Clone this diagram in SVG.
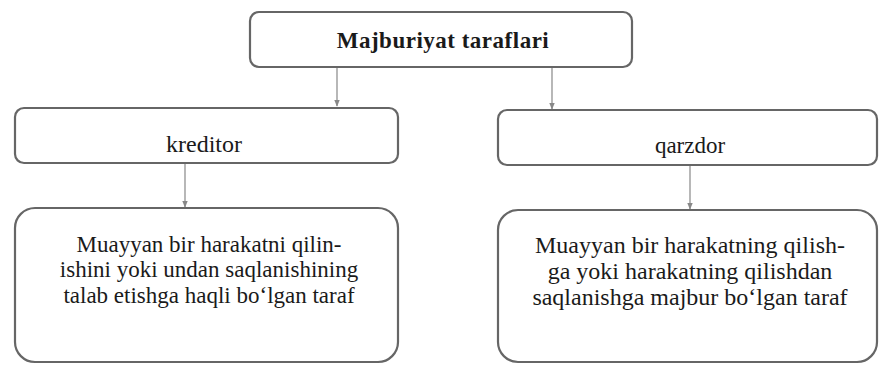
<svg xmlns="http://www.w3.org/2000/svg" width="882" height="366" viewBox="0 0 882 366">
<defs>
<style>
.box{fill:#fff;stroke:#666;stroke-width:2.2}
.t{fill:#1a1a1a;font-family:'Liberation Serif','Times New Roman','DejaVu Serif',serif}
.conn{stroke:#888;stroke-width:1.2;fill:none}
</style>
<marker id="ah" viewBox="0 0 10 10" refX="9" refY="5" markerWidth="6" markerHeight="6" orient="auto">
<path d="M0,1 L10,5 L0,9 Z" fill="#888"/>
</marker>
</defs>
<rect width="882" height="366" fill="#fff"/>
<g id="connectors">
<line class="conn" x1="337" y1="67" x2="337" y2="106" marker-end="url(#ah)"/>
<line class="conn" x1="552" y1="67" x2="552" y2="109" marker-end="url(#ah)"/>
<line class="conn" x1="185" y1="163" x2="185" y2="207" marker-end="url(#ah)"/>
<line class="conn" x1="690" y1="165" x2="690" y2="209" marker-end="url(#ah)"/>
</g>
<g id="root">
<rect class="box" x="250" y="12" width="382" height="55" rx="9"/>
<text class="t" text-anchor="middle" x="443" y="48" font-size="23" font-weight="bold" letter-spacing="0.5">Majburiyat taraflari</text>
</g>
<g id="kreditor">
<rect class="box" x="15" y="108" width="383" height="55" rx="9"/>
<text class="t" text-anchor="middle" x="204" y="152" font-size="24">kreditor</text>
</g>
<g id="qarzdor">
<rect class="box" x="498" y="110" width="379" height="55" rx="9"/>
<text class="t" text-anchor="middle" x="690" y="153" font-size="23">qarzdor</text>
</g>
<g id="kreditor-desc">
<rect class="box" x="15" y="208" width="383" height="154" rx="20"/>
<text class="t" text-anchor="middle" x="209" y="252" font-size="23">Muayyan bir harakatni qilin-</text>
<text class="t" text-anchor="middle" x="209" y="277" font-size="23">ishini yoki undan saqlanishining</text>
<text class="t" text-anchor="middle" x="209" y="303" font-size="23">talab etishga haqli bo‘lgan taraf</text>
</g>
<g id="qarzdor-desc">
<rect class="box" x="498" y="210" width="379" height="152" rx="20"/>
<text class="t" text-anchor="middle" x="690" y="253" font-size="24">Muayyan bir harakatning qilish-</text>
<text class="t" text-anchor="middle" x="690" y="279" font-size="24">ga yoki harakatning qilishdan</text>
<text class="t" text-anchor="middle" x="690" y="305" font-size="24">saqlanishga majbur bo‘lgan taraf</text>
</g>
</svg>
